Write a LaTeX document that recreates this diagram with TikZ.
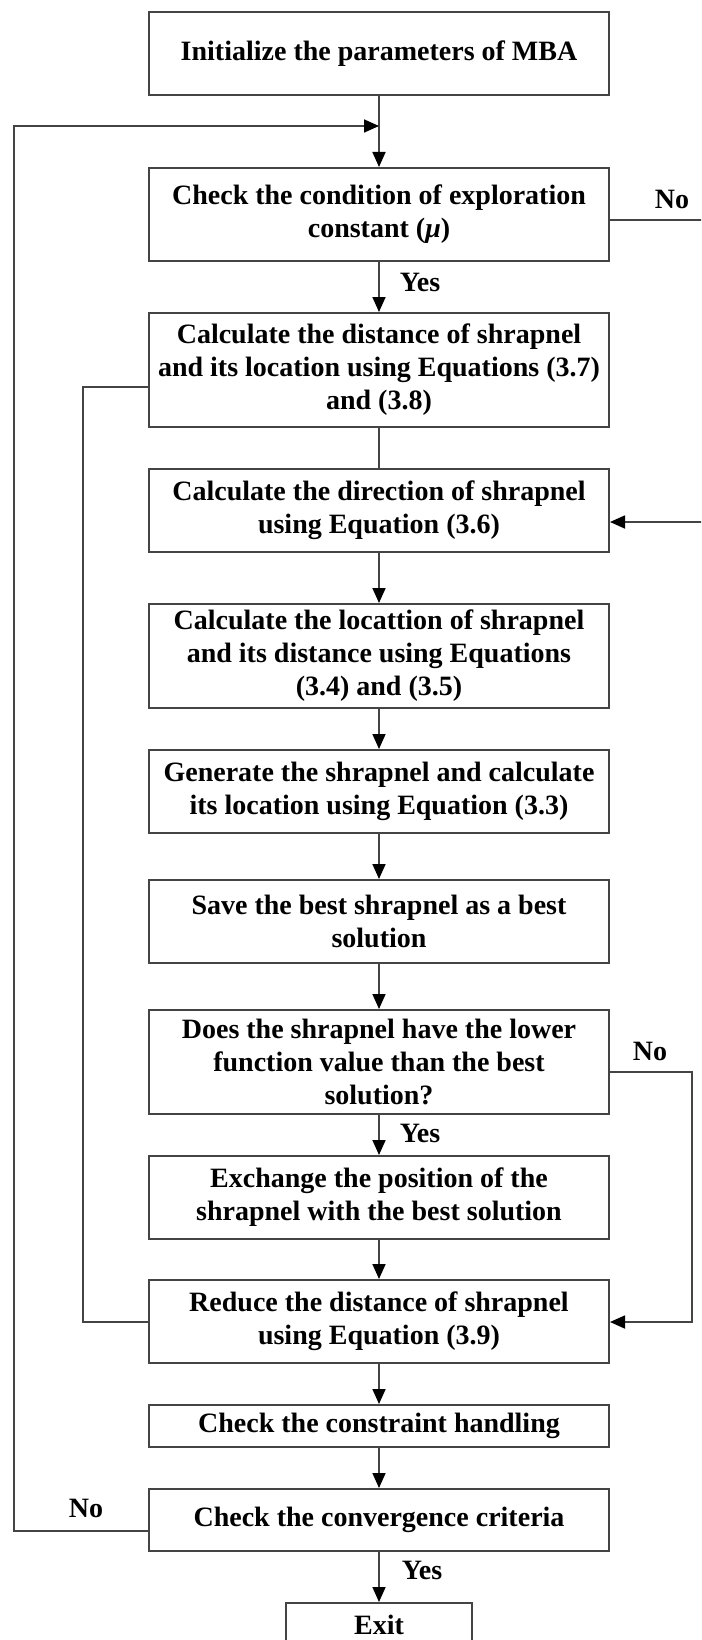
\documentclass[tikz,border=0pt]{standalone}
\usepackage{fontspec}
\setmainfont{Liberation Serif}
\usetikzlibrary{arrows.meta}
\definecolor{boxgray}{HTML}{444444}
\definecolor{linegray}{HTML}{444444}
\begin{document}
\begin{tikzpicture}[x=1pt,y=-1pt,
  box/.style={draw=boxgray, line width=2pt, minimum width=460pt, inner sep=0pt, align=center, font=\bfseries\fontsize{28}{33}\selectfont, text=black},
  conn/.style={draw=linegray, line width=1.7pt},
  arr/.style={conn, -{Triangle[length=15pt,width=13pt,color=black,fill=black]}},
  lbl/.style={font=\bfseries\fontsize{28}{33}\selectfont, inner sep=0pt, text=black}]
\clip (0,0) rectangle (701,1640);
\fill[white] (0,0) rectangle (701,1640);

\node[box, minimum height=83pt] (b1) at (379,53.5) {Initialize the parameters of MBA};
\node[box, minimum height=93pt] (b2) at (379,214.5) {Check the condition of exploration\\constant (\textit{\char"03BC})};
\node[box, minimum height=114pt] (b3) at (379,370) {Calculate the distance of shrapnel\\and its location using Equations (3.7)\\and (3.8)};
\node[box, minimum height=83pt] (b4) at (379,510.5) {Calculate the direction of shrapnel\\using Equation (3.6)};
\node[box, minimum height=104pt] (b5) at (379,656) {Calculate the locattion of shrapnel\\and its distance using Equations\\(3.4) and (3.5)};
\node[box, minimum height=83pt] (b6) at (379,791.5) {Generate the shrapnel and calculate\\its location using Equation (3.3)};
\node[box, minimum height=83pt] (b7) at (379,921.5) {Save the best shrapnel as a best\\solution};
\node[box, minimum height=104pt] (b8) at (379,1062) {Does the shrapnel have the lower\\function value than the best\\solution?};
\node[box, minimum height=83pt] (b9) at (379,1197.5) {Exchange the position of the\\shrapnel with the best solution};
\node[box, minimum height=83pt] (b10) at (379,1321.5) {Reduce the distance of shrapnel\\using Equation (3.9)};
\node[box, minimum height=42pt] (b11) at (379,1426) {Check the constraint handling};
\node[box, minimum height=62pt] (b12) at (379,1520) {Check the convergence criteria};
\node[box, minimum width=186pt, minimum height=44pt] (ex) at (379,1625) {Exit};

\node[lbl] (no1) at (672,199) {No};
\node[lbl] (yes1) at (420,282) {Yes};
\node[lbl] (no2) at (650,1051) {No};
\node[lbl] (yes2) at (420,1133) {Yes};
\node[lbl] (no3) at (86,1508) {No};
\node[lbl] (yes3) at (422,1570) {Yes};

\coordinate (tl) at (14,126);
\coordinate (bl) at (14,1531);
\coordinate (loopin) at (379,126);
\coordinate (r1) at (720,220);
\coordinate (r2) at (720,522);
\coordinate (il1) at (83,387);
\coordinate (il2) at (83,1322);
\coordinate (nr1) at (692,1072);
\coordinate (nr2) at (692,1322);

\draw[arr] (b1) -- (b2);
\draw[arr] (b2) -- (b3);
\draw[conn] (b3) -- (b4);
\draw[arr] (b4) -- (b5);
\draw[arr] (b5) -- (b6);
\draw[arr] (b6) -- (b7);
\draw[arr] (b7) -- (b8);
\draw[arr] (b8) -- (b9);
\draw[arr] (b9) -- (b10);
\draw[arr] (b10) -- (b11);
\draw[arr] (b11) -- (b12);
\draw[arr] (b12) -- (ex);

\draw[arr] (b12.west |- bl) -- (bl) -- (tl) -- (loopin);
\draw[arr] (b2.east |- r1) -- (r1) -- (r2) -- (b4.east |- r2);
\draw[conn] (b3.west |- il1) -- (il1) -- (il2) -- (b10.west |- il2);
\draw[arr] (b8.east |- nr1) -- (nr1) -- (nr2) -- (b10.east |- nr2);
\end{tikzpicture}
\end{document}
